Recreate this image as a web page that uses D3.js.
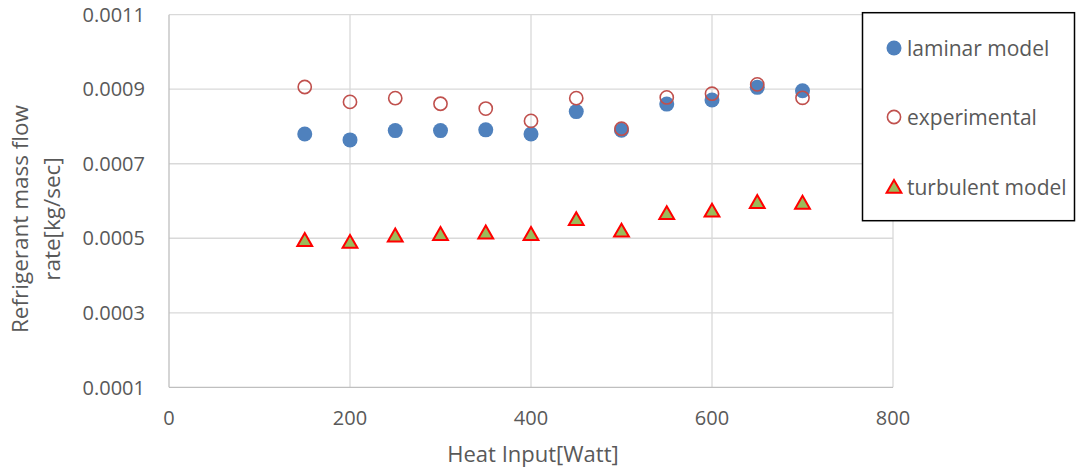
<!DOCTYPE html>
<html><head><meta charset="utf-8">
<script src="https://cdn.jsdelivr.net/npm/d3@7"></script>
<style>body{margin:0;background:#fff}svg{display:block}text{font-family:"Open Sans",sans-serif;fill:#595959}</style>
</head><body><svg id="c" width="1076" height="469"></svg>
<script>
const heat = [150,200,250,300,350,400,450,500,550,600,650,700];
const laminar = [0.000780,0.000764,0.000789,0.000789,0.000791,0.000780,0.000840,0.000790,0.000860,0.000871,0.000905,0.000896];
const experimental = [0.000906,0.000866,0.000876,0.000861,0.000848,0.000815,0.000876,0.000794,0.000878,0.000888,0.000913,0.000877];
const turbulent = [0.000495,0.000490,0.000507,0.000511,0.000515,0.000511,0.000551,0.000520,0.000567,0.000574,0.000597,0.000595];
const xTicks = [0,200,400,600,800];
const yTicks = [0.0001,0.0003,0.0005,0.0007,0.0009,0.0011];
const seriesNames = ["laminar model","experimental","turbulent model"];

const svg = d3.select("#c");
const x = d3.scaleLinear().domain([0,800]).range([169,893]);
const y = d3.scaleLinear().domain([0.0001,0.0011]).range([387.3,14.7]);

// gridlines
svg.append("g").selectAll("line").data(yTicks.slice(1)).join("line")
  .attr("x1",x(0)).attr("x2",x(800)).attr("y1",d=>y(d)).attr("y2",d=>y(d))
  .attr("stroke","#d9d9d9").attr("stroke-width",1.3);
svg.append("g").selectAll("line").data(xTicks.slice(1)).join("line")
  .attr("x1",d=>x(d)).attr("x2",d=>x(d)).attr("y1",y(0.0001)).attr("y2",y(0.0011))
  .attr("stroke","#d9d9d9").attr("stroke-width",1.3);
// axes
svg.append("line").attr("x1",x(0)).attr("x2",x(0)).attr("y1",y(0.0001)).attr("y2",y(0.0011)).attr("stroke","#bfbfbf").attr("stroke-width",1.3);
svg.append("line").attr("x1",x(0)).attr("x2",x(800)).attr("y1",y(0.0001)).attr("y2",y(0.0001)).attr("stroke","#bfbfbf").attr("stroke-width",1.3);

// tick labels
svg.append("g").selectAll("text").data(yTicks).join("text")
  .attr("x",145).attr("y",d=>y(d)).attr("dy","0.36em").attr("text-anchor","end")
  .attr("font-size",20).text(d=>d.toFixed(4));
svg.append("g").selectAll("text").data(xTicks).join("text")
  .attr("x",d=>x(d)).attr("y",425).attr("text-anchor","middle")
  .attr("font-size",20).text(d=>d);

// axis titles
svg.append("text").attr("x",533).attr("y",462).attr("text-anchor","middle").attr("font-size",22).text("Heat Input[Watt]");
const yt = svg.append("text").attr("transform","translate(0,219) rotate(-90)").attr("text-anchor","middle").attr("font-size",22.5);
yt.append("tspan").attr("x",0).attr("y",28).text("Refrigerant mass flow");
yt.append("tspan").attr("x",0).attr("y",60).text("rate[kg/sec]");

const tri = d3.symbol().type(d3.symbolTriangle).size(95);

function drawMarker(g, type){
  if(type===0) g.append("circle").attr("r",7.5).attr("fill","#4f81bd");
  else if(type===1) g.append("circle").attr("r",6.6).attr("fill","none").attr("stroke","#c0504d").attr("stroke-width",1.6);
  else g.append("path").attr("d",tri).attr("transform","translate(0,1.5)").attr("fill","#9bbb59").attr("stroke","#ff0000").attr("stroke-width",2);
}

const data = [laminar, experimental, turbulent];
[0,1,2].forEach(s=>{
  const g = svg.append("g");
  heat.forEach((h,i)=>{
    const m = g.append("g").attr("transform",`translate(${x(h)},${y(data[s][i])})`);
    drawMarker(m,s);
  });
});

// legend
svg.append("rect").attr("x",862.5).attr("y",12.7).attr("width",212).attr("height",208)
  .attr("fill","#fff").attr("stroke","#000").attr("stroke-width",1.5);
const ly = [48,117,187];
seriesNames.forEach((n,i)=>{
  const m = svg.append("g").attr("transform",`translate(894,${ly[i]})`);
  drawMarker(m,i);
  svg.append("text").attr("x",907).attr("y",ly[i]).attr("dy","0.36em").attr("font-size",21).text(n);
});
</script></body></html>
